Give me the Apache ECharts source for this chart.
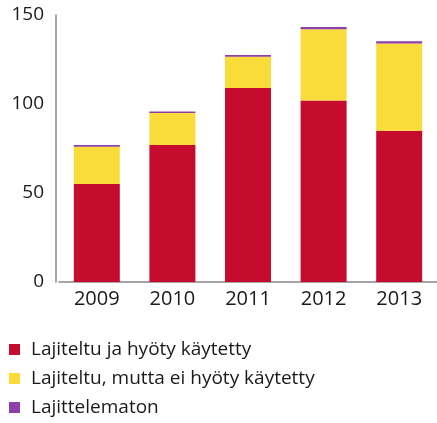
<!DOCTYPE html>
<html lang="fi">
<head>
  <meta charset="UTF-8">
  <title>Lajittelu</title>
  <style>
    html, body { padding: 0; margin: 0; background: #fff; }
    #myChart { width: 437px; height: 423px; }
  </style>
</head>
<body>
  <div id="myChart"></div>
  <script src="https://cdn.jsdelivr.net/npm/echarts@6/dist/echarts.min.js"></script>
  <script>
    const years = ['2009', '2010', '2011', '2012', '2013'];
    const hyotykaytetty = [55, 77, 109, 102, 85];
    const eiHyotykaytetty = [21, 18, 17.5, 40, 49];
    const lajittelematon = [1, 0.8, 1, 1.2, 1.3];
    const yTicks = [0, 50, 100, 150];

    const myChart = echarts.init(document.getElementById('myChart'));
    const font = '"Open Sans", sans-serif';

    const option = {
      animation: false,
      backgroundColor: '#fff',
      grid: { left: 59, right: 0, top: 15, bottom: 141 },
      legend: {
        orient: 'vertical',
        left: 9,
        top: 340,
        padding: 0,
        itemWidth: 11,
        itemHeight: 11,
        itemGap: 10,
        icon: 'rect',
        textStyle: { fontSize: 19, lineHeight: 19, color: '#1a1a1a', fontFamily: font, padding: [0, 0, 0, 6] },
        data: ['Lajiteltu ja hyöty käytetty', 'Lajiteltu, mutta ei hyöty käytetty', 'Lajittelematon']
      },
      xAxis: {
        type: 'category',
        data: years,
        axisLine: { lineStyle: { color: '#888', width: 1.5 } },
        axisTick: { show: false },
        axisLabel: { fontSize: 20, color: '#1a1a1a', fontFamily: font, margin: 7 }
      },
      yAxis: {
        type: 'value',
        min: yTicks[0],
        max: yTicks[yTicks.length - 1],
        interval: 50,
        offset: 3,
        axisLine: { show: true, lineStyle: { color: '#888', width: 1.5 } },
        axisTick: { show: false },
        splitLine: { show: false },
        axisLabel: { fontSize: 19, color: '#1a1a1a', fontFamily: font, margin: 12 }
      },
      series: [{
        name: 'Lajiteltu ja hyöty käytetty',
        type: 'bar',
        stack: 'total',
        barWidth: 46,
        itemStyle: { color: '#c60c2e' },
        data: hyotykaytetty
      }, {
        name: 'Lajiteltu, mutta ei hyöty käytetty',
        type: 'bar',
        stack: 'total',
        itemStyle: { color: '#f9dc3a' },
        data: eiHyotykaytetty
      }, {
        name: 'Lajittelematon',
        type: 'bar',
        stack: 'total',
        itemStyle: { color: '#8f3fa8' },
        data: lajittelematon
      }]
    };
    myChart.setOption(option);
  </script>
</body>
</html>
